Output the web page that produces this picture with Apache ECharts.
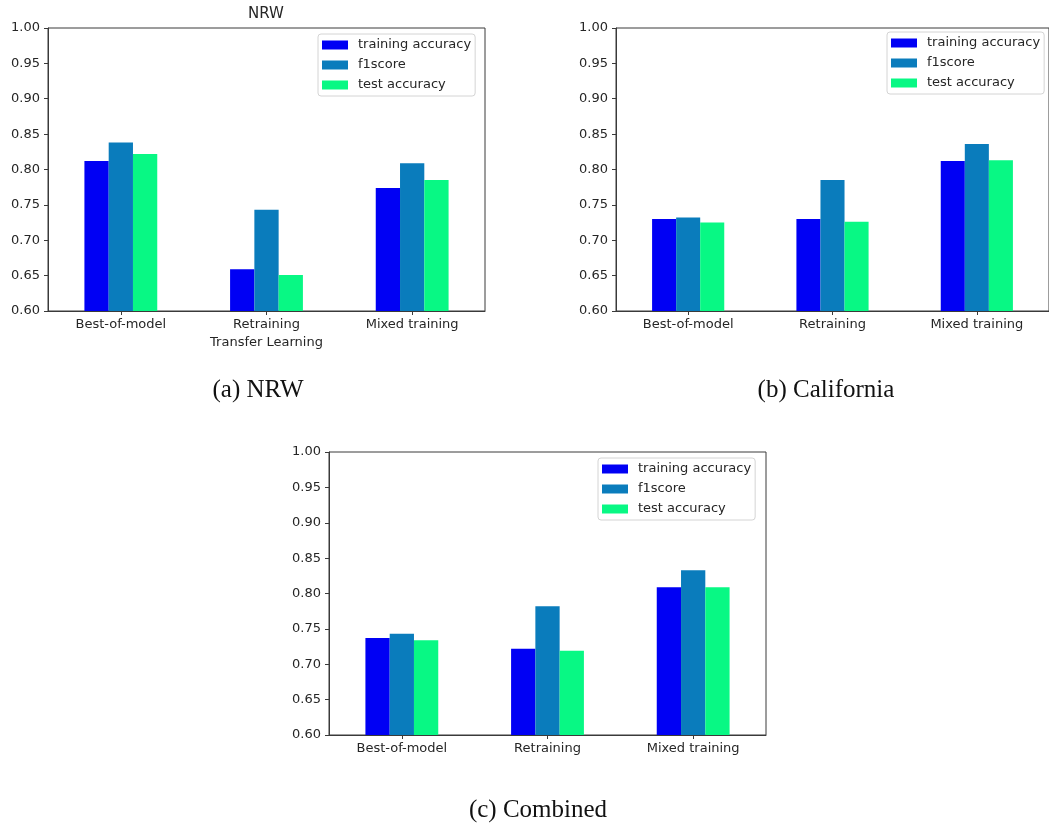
<!DOCTYPE html>
<html>
<head>
<meta charset="utf-8">
<title>Accuracy comparison</title>
<script src="https://cdn.jsdelivr.net/npm/echarts@6/dist/echarts.min.js"></script>
<style>
  html, body { margin: 0; padding: 0; background: #fff; }
  #chart { width: 1049px; height: 829px; }
</style>
</head>
<body>
<div id="chart"></div>
<script>
// Training approaches on the x axis
const categories = ['Best-of-model', 'Retraining', 'Mixed training'];
const seriesNames = ['training accuracy', 'f1score', 'test accuracy'];
const yTicks = [0.60, 0.65, 0.70, 0.75, 0.80, 0.85, 0.90, 0.95, 1.00];

// NRW
const nrwTrain = [0.812, 0.659, 0.774];
const nrwF1    = [0.838, 0.743, 0.809];
const nrwTest  = [0.822, 0.651, 0.785];

// California
const calTrain = [0.730, 0.730, 0.812];
const calF1    = [0.732, 0.785, 0.836];
const calTest  = [0.725, 0.726, 0.813];

// Combined
const combTrain = [0.737, 0.722, 0.809];
const combF1    = [0.743, 0.782, 0.833];
const combTest  = [0.734, 0.719, 0.809];

const colors = ['#0000f4', '#0a7cbc', '#08f884'];
const FONT = 'DejaVu Sans';
const INK = '#262626';

const panels = [
  { grid: { left: 48, top: 28, width: 437, height: 283 }, legend: { left: 318, top: 34 },
    data: [nrwTrain, nrwF1, nrwTest], xName: 'Transfer Learning' },
  { grid: { left: 616, top: 28, width: 436, height: 283 }, legend: { left: 887, top: 32 },
    data: [calTrain, calF1, calTest], xName: '' },
  { grid: { left: 329, top: 452, width: 437, height: 283 }, legend: { left: 598, top: 458 },
    data: [combTrain, combF1, combTest], xName: '' }
];

const grids = [], xAxes = [], yAxes = [], legends = [], series = [];

panels.forEach((p, i) => {
  grids.push(Object.assign({
    show: true, borderColor: '#3a3a3a', borderWidth: 1, backgroundColor: '#fff', containLabel: false
  }, p.grid));

  xAxes.push({
    type: 'category', gridIndex: i, data: categories,
    name: p.xName, nameLocation: 'middle', nameGap: 25,
    nameTextStyle: { fontFamily: FONT, fontSize: 13, color: INK },
    axisLine: { show: true, lineStyle: { color: '#3a3a3a', width: 1 } },
    axisTick: { show: true, alignWithLabel: true, length: 4, lineStyle: { color: '#3a3a3a' } },
    axisLabel: { fontFamily: FONT, fontSize: 13, color: INK, margin: 7, interval: 0 },
    splitLine: { show: false }
  });

  yAxes.push({
    type: 'value', gridIndex: i,
    min: yTicks[0], max: yTicks[yTicks.length - 1], interval: 0.05,
    axisLine: { show: true, lineStyle: { color: '#3a3a3a', width: 1 } },
    axisTick: { show: true, length: 4, lineStyle: { color: '#3a3a3a' } },
    axisLabel: { fontFamily: FONT, fontSize: 13, color: INK, margin: 8,
                 formatter: v => v.toFixed(2) },
    splitLine: { show: false }
  });

  legends.push({
    data: seriesNames,
    orient: 'vertical',
    left: p.legend.left, top: p.legend.top,
    icon: 'rect', itemWidth: 26, itemHeight: 9, itemGap: 6,
    padding: [4, 4, 4, 4],
    backgroundColor: '#fff', borderColor: '#d4d4d4', borderWidth: 1, borderRadius: 3,
    textStyle: { fontFamily: FONT, fontSize: 13, color: INK, lineHeight: 14, padding: [0, 0, 0, 5] },
    selectedMode: false
  });

  p.data.forEach((vals, k) => {
    series.push({
      type: 'bar', name: seriesNames[k], xAxisIndex: i, yAxisIndex: i,
      data: vals, barGap: '0%', barCategoryGap: '50%',
      itemStyle: { color: colors[k] },
      emphasis: { disabled: true }
    });
  });
});

const caption = (text, x, y) => ({
  type: 'text', x: x, y: y,
  style: { text: text, fontFamily: 'Liberation Serif', fontSize: 25, fill: '#111',
           align: 'center', verticalAlign: 'middle' }
});

const chart = echarts.init(document.getElementById('chart'), null, { renderer: 'canvas' });
chart.setOption({
  animation: false,
  backgroundColor: '#fff',
  color: colors,
  grid: grids,
  xAxis: xAxes,
  yAxis: yAxes,
  legend: legends,
  series: series,
  graphic: [
    { type: 'text', x: 266, y: 14,
      style: { text: 'NRW', fontFamily: FONT, fontSize: 15, fill: INK, align: 'center', verticalAlign: 'middle' } },
    caption('(a) NRW', 258, 390),
    caption('(b) California', 826, 390),
    caption('(c) Combined', 538, 810)
  ]
});
</script>
</body>
</html>
